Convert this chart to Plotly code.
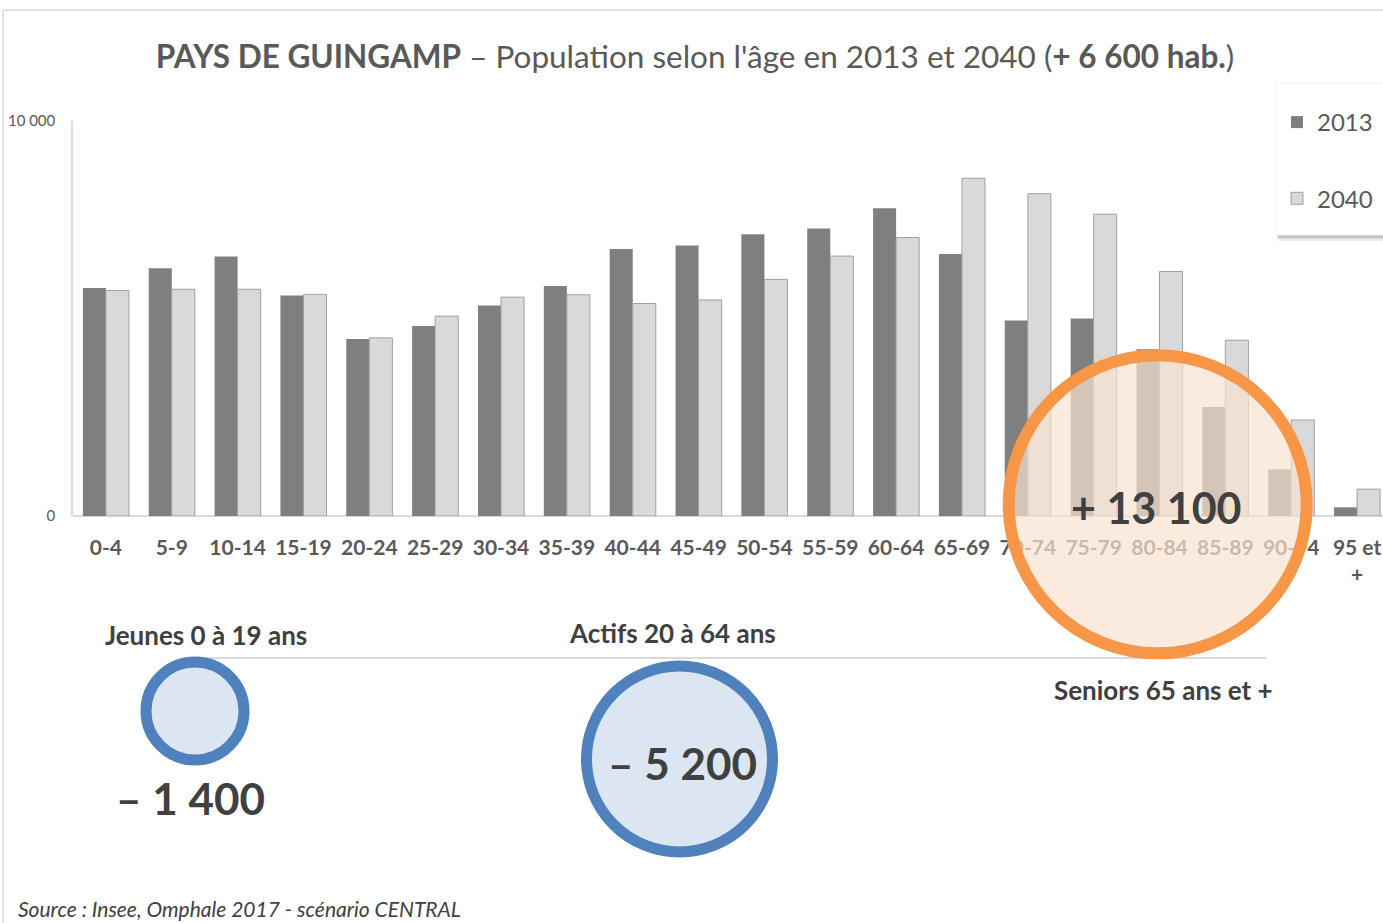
import plotly.graph_objects as go

# ---------------- data ----------------
categories = ["0-4", "5-9", "10-14", "15-19", "20-24", "25-29", "30-34", "35-39",
              "40-44", "45-49", "50-54", "55-59", "60-64", "65-69", "70-74", "75-79",
              "80-84", "85-89", "90-94", "95 et +"]
tick_labels = ["0-4", "5-9", "10-14", "15-19", "20-24", "25-29", "30-34", "35-39",
               "40-44", "45-49", "50-54", "55-59", "60-64", "65-69", "70-74", "75-79",
               "80-84", "85-89", "90-94", "95 et<br>+"]
pop_2013 = [5770, 6270, 6570, 5580, 4480, 4810, 5330, 5820, 6760, 6850,
            7130, 7280, 7790, 6630, 4950, 5000, 4220, 2760, 1180, 220]
pop_2040 = [5710, 5740, 5740, 5610, 4510, 5060, 5540, 5600, 5380, 5470,
            5990, 6580, 7050, 8550, 8160, 7640, 6190, 4450, 2430, 680]
y_tick_vals = [0, 10000]
y_tick_text = ["0", "10\u202f000"]
group_labels = ["Jeunes 0 à 19 ans", "Actifs 20 à 64 ans", "Seniors 65 ans et +"]
group_changes = ["– 1 400", "– 5 200", "+ 13 100"]
source_text = "Source : Insee, Omphale 2017 - scénario CENTRAL"

# ---------------- geometry helpers ----------------
W, H = 1392, 923
L, R, T, B = 73, 2, 121, 407
PW, PH = W - L - R, H - T - B
FONT = "Lato, 'Open Sans', sans-serif"


def px(x):
    return (x - L) / PW


def py(y):
    return (H - B - y) / PH


def circle(cx, cy, r, line_color, fill, lw):
    return dict(type="circle", xref="paper", yref="paper",
                x0=px(cx - r), x1=px(cx + r), y0=py(cy + r), y1=py(cy - r),
                line=dict(color=line_color, width=lw), fillcolor=fill, layer="above")


fig = go.Figure()
fig.add_trace(go.Bar(x=categories, y=pop_2013, name="2013", legendgroup="a",
                     marker=dict(color="#7f7f7f", line=dict(width=0))))
fig.add_trace(go.Bar(x=categories, y=pop_2040, name="2040", legendgroup="b",
                     marker=dict(color="#d9d9d9", line=dict(color="#a0a0a0", width=1))))

shapes = [
    # outer frame
    dict(type="line", xref="paper", yref="paper", x0=px(3), x1=px(W), y0=py(10), y1=py(10),
         line=dict(color="#d9d9d9", width=1.5), layer="below"),
    dict(type="line", xref="paper", yref="paper", x0=px(3), x1=px(3), y0=py(10), y1=py(H),
         line=dict(color="#d9d9d9", width=1.5), layer="below"),
    # legend box soft shadow + box
    dict(type="rect", xref="paper", yref="paper", x0=px(1278), x1=px(W), y0=py(241), y1=py(87),
         fillcolor="rgba(0,0,0,0.06)", line=dict(width=0), layer="below"),
    dict(type="rect", xref="paper", yref="paper", x0=px(1278), x1=px(W), y0=py(239), y1=py(86),
         fillcolor="rgba(0,0,0,0.10)", line=dict(width=0), layer="below"),
    dict(type="rect", xref="paper", yref="paper", x0=px(1277), x1=px(W), y0=py(237.5), y1=py(85),
         fillcolor="rgba(0,0,0,0.12)", line=dict(width=0), layer="below"),
    dict(type="rect", xref="paper", yref="paper", x0=px(1276), x1=px(W), y0=py(235), y1=py(83),
         fillcolor="white", line=dict(color="#f2f2f2", width=1), layer="below"),
    # separator line under headings
    dict(type="line", xref="paper", yref="paper", x0=px(195), x1=px(1266), y0=py(658), y1=py(658),
         line=dict(color="#d9d9d9", width=2), layer="below"),
    circle(195, 711, 49, "#4f81bd", "#dce6f2", 11),
    circle(679.5, 759, 93, "#4f81bd", "#dce6f2", 11),
    circle(1157.7, 504.3, 149, "#f79646", "rgba(250,226,210,0.7)", 12),
]

annotations = [
    dict(text=f"<b>{group_labels[0]}</b>", x=px(206), y=py(635), font=dict(size=26, color="#404040")),
    dict(text=f"<b>{group_labels[1]}</b>", x=px(672), y=py(633), font=dict(size=26, color="#404040")),
    dict(text=f"<b>{group_labels[2]}</b>", x=px(1163), y=py(690), font=dict(size=26, color="#404040")),
    dict(text=f"<b>{group_changes[0]}</b>", x=px(190), y=py(798), font=dict(size=44, color="#404040")),
    dict(text=f"<b>{group_changes[1]}</b>", x=px(682), y=py(763), font=dict(size=44, color="#404040")),
    dict(text=f"<b>{group_changes[2]}</b>", x=px(1156), y=py(507), font=dict(size=43, color="#404040")),
    dict(text=f"<i>{source_text}</i>", x=px(16), y=py(908), xanchor="left",
         font=dict(size=21, color="#404040")),
]
for a in annotations:
    a.update(xref="paper", yref="paper", showarrow=False)
    a.setdefault("xanchor", "center")
    a.setdefault("yanchor", "middle")
    a["font"]["family"] = FONT

fig.update_layout(
    width=W, height=H,
    margin=dict(l=L, r=R, t=T, b=B, autoexpand=False),
    paper_bgcolor="white", plot_bgcolor="rgba(0,0,0,0)",
    font=dict(family=FONT, color="#595959"),
    title=dict(text="<b>PAYS DE GUINGAMP</b> – Population selon l'âge en 2013 et 2040 (<b>+ 6 600 hab.</b>)",
               x=695 / W, xanchor="center", xref="container",
               y=1 - 57 / H, yanchor="middle", yref="container",
               font=dict(size=31.5, color="#595959", family=FONT)),
    barmode="group", bargap=0.30, bargroupgap=0,
    showlegend=True,
    legend=dict(x=px(1277), xanchor="left", y=py(100), yanchor="top",
                bgcolor="rgba(0,0,0,0)", borderwidth=0,
                font=dict(size=24, color="#595959", family=FONT),
                tracegroupgap=42, itemwidth=30),
    xaxis=dict(type="category", tickvals=categories, ticktext=tick_labels,
               showgrid=False, showline=False, ticks="", ticklabelstandoff=17,
               tickfont=dict(size=21, color="#595959", family=FONT, weight="bold")),
    yaxis=dict(range=[0, 10000], tickvals=y_tick_vals, ticktext=y_tick_text,
               showgrid=True, gridcolor="#d9d9d9", gridwidth=1,
               zeroline=True, zerolinecolor="#d9d9d9", zerolinewidth=1.5,
               showline=True, linecolor="#d9d9d9", linewidth=1.5,
               ticks="", ticklabelstandoff=13,
               tickfont=dict(size=15, color="#595959", family=FONT)),
    shapes=shapes,
    annotations=annotations,
)

fig.write_html("out.html", config={"displayModeBar": False},
               post_script="document.body.style.margin='0';document.body.style.overflow='hidden';")
